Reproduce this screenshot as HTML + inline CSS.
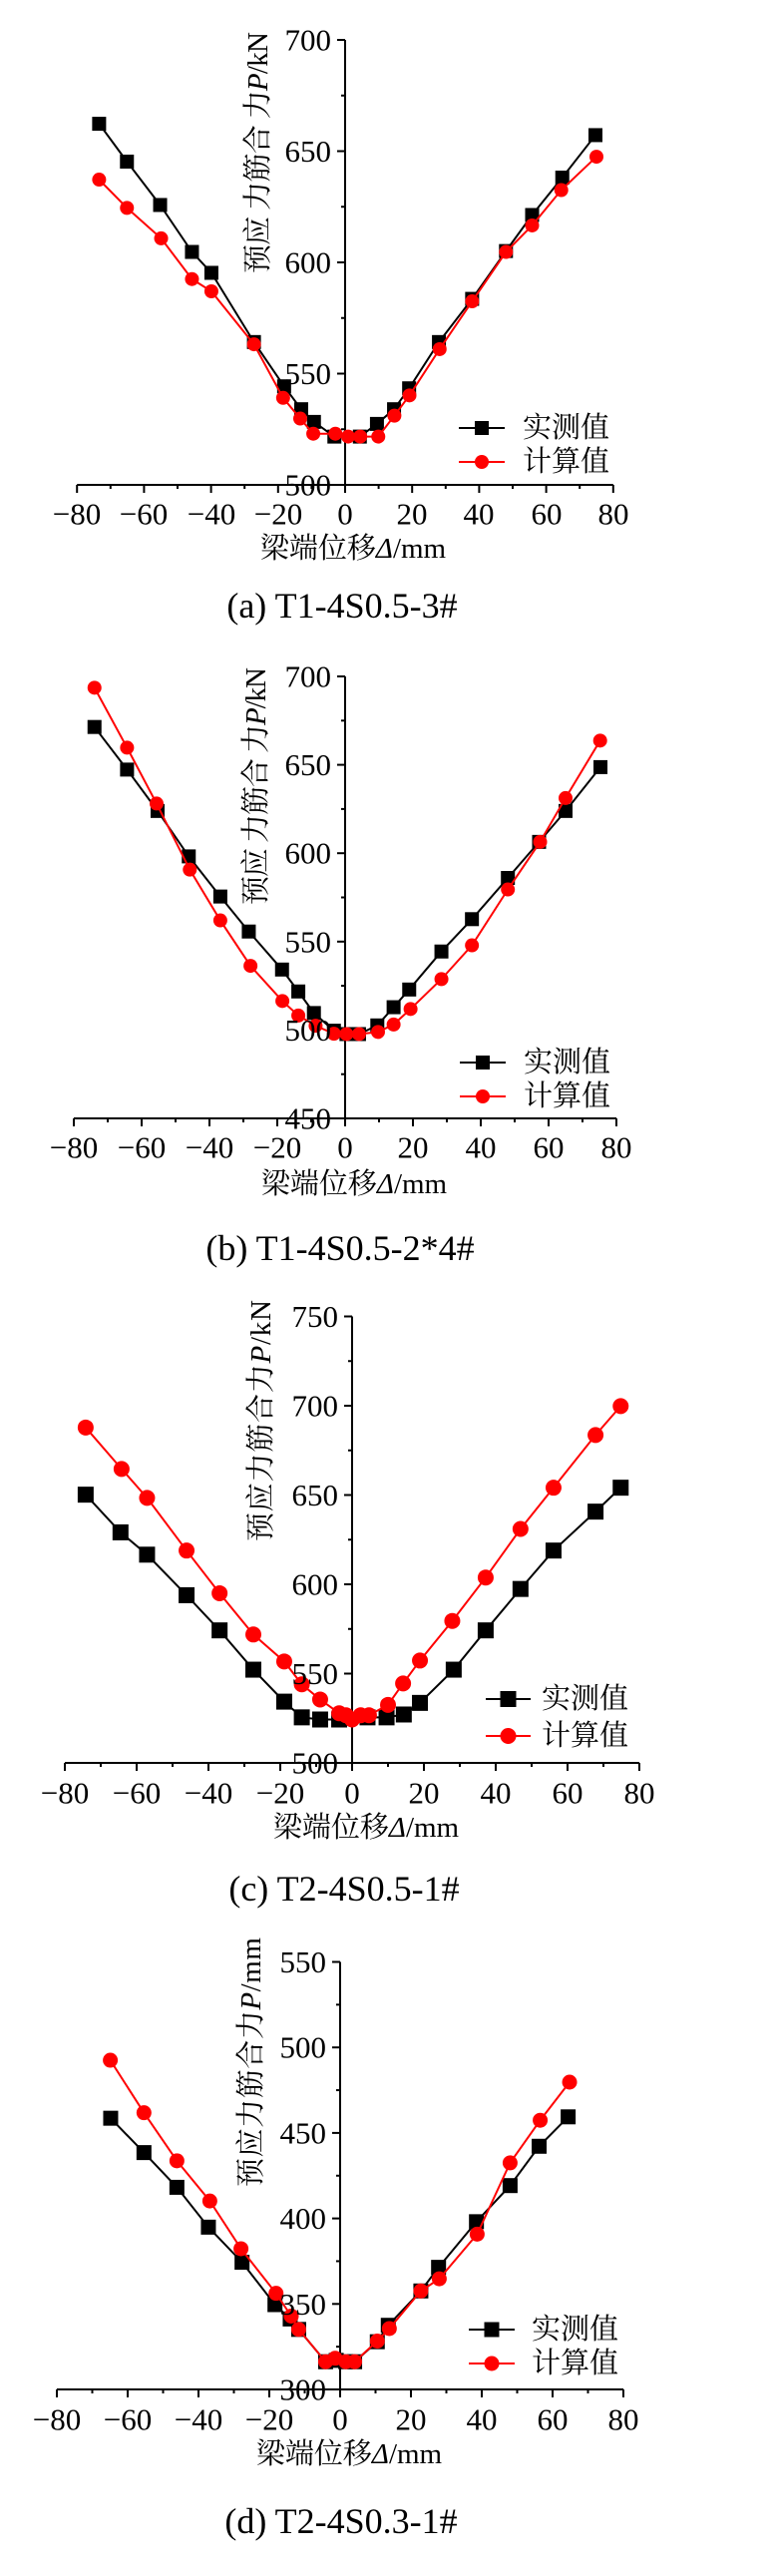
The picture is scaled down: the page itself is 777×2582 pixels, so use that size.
<!DOCTYPE html>
<html><head><meta charset="utf-8">
<style>
html,body{margin:0;padding:0;background:#fff;}
svg{display:block;}
text{font-family:"Liberation Serif","Noto Serif CJK SC",serif;fill:#000;}
.t{font-size:31px;}
.cj{font-family:"Liberation Serif","Noto Serif CJK SC",serif;font-size:29px;}
.cap{font-size:36px;}
</style></head><body>
<svg id="s" width="777" height="2582" viewBox="0 0 777 2582" xmlns="http://www.w3.org/2000/svg">
<g id="g"></g>
<!-- Chart a -->
<g class="t" text-anchor="end" dominant-baseline="central">
<text x="332" y="486">500</text><text x="332" y="374.5">550</text><text x="332" y="263">600</text><text x="332" y="151.5">650</text><text x="332" y="40">700</text>
</g>
<g class="t" text-anchor="middle" dominant-baseline="central">
<text x="77" y="515">−80</text><text x="144" y="515">−60</text><text x="212" y="515">−40</text><text x="279" y="515">−20</text><text x="346" y="515">0</text><text x="413" y="515">20</text><text x="480" y="515">40</text><text x="548" y="515">60</text><text x="615" y="515">80</text>
</g>
<text class="cj" x="354" y="550" text-anchor="middle" dominant-baseline="central">梁端位移<tspan font-style="italic">Δ</tspan>/mm</text>
<text class="cap" x="343" y="607" text-anchor="middle" dominant-baseline="central">(a) T1-4S0.5-3#</text>
<text class="cj" transform="translate(259,153) rotate(-90)" text-anchor="middle" dominant-baseline="central" textLength="242" lengthAdjust="spacing">预应 力筋合 力<tspan font-style="italic">P</tspan>/kN</text>
<text class="cj" x="524" y="429" dominant-baseline="central">实测值</text>
<text class="cj" x="524" y="463" dominant-baseline="central">计算值</text>

<!-- Chart b -->
<g class="t" text-anchor="end" dominant-baseline="central">
<text x="332" y="1121">450</text><text x="332" y="1032.4">500</text><text x="332" y="943.8">550</text><text x="332" y="855.2">600</text><text x="332" y="766.6">650</text><text x="332" y="678">700</text>
</g>
<g class="t" text-anchor="middle" dominant-baseline="central">
<text x="74" y="1150">−80</text><text x="142" y="1150">−60</text><text x="210" y="1150">−40</text><text x="278" y="1150">−20</text><text x="346" y="1150">0</text><text x="414" y="1150">20</text><text x="482" y="1150">40</text><text x="550" y="1150">60</text><text x="618" y="1150">80</text>
</g>
<text class="cj" x="355" y="1187" text-anchor="middle" dominant-baseline="central">梁端位移<tspan font-style="italic">Δ</tspan>/mm</text>
<text class="cap" x="341" y="1251" text-anchor="middle" dominant-baseline="central">(b) T1-4S0.5-2*4#</text>
<text class="cj" transform="translate(257,788) rotate(-90)" text-anchor="middle" dominant-baseline="central" textLength="238" lengthAdjust="spacing">预应 力筋合 力<tspan font-style="italic">P</tspan>/kN</text>
<text class="cj" x="525" y="1065" dominant-baseline="central">实测值</text>
<text class="cj" x="525" y="1099" dominant-baseline="central">计算值</text>

<!-- Chart c -->
<g class="t" text-anchor="end" dominant-baseline="central">
<text x="339" y="1767">500</text><text x="339" y="1677.5">550</text><text x="339" y="1588">600</text><text x="339" y="1498.5">650</text><text x="339" y="1409">700</text><text x="339" y="1319.5">750</text>
</g>
<g class="t" text-anchor="middle" dominant-baseline="central">
<text x="65" y="1797">−80</text><text x="137" y="1797">−60</text><text x="209" y="1797">−40</text><text x="281" y="1797">−20</text><text x="353" y="1797">0</text><text x="425" y="1797">20</text><text x="497" y="1797">40</text><text x="569" y="1797">60</text><text x="641" y="1797">80</text>
</g>
<text class="cj" x="367" y="1832" text-anchor="middle" dominant-baseline="central">梁端位移<tspan font-style="italic">Δ</tspan>/mm</text>
<text class="cap" x="345" y="1893" text-anchor="middle" dominant-baseline="central">(c) T2-4S0.5-1#</text>
<text class="cj" transform="translate(262,1424) rotate(-90)" text-anchor="middle" dominant-baseline="central" textLength="242" lengthAdjust="spacing">预应力筋合力<tspan font-style="italic">P</tspan>/kN</text>
<text class="cj" x="543" y="1703" dominant-baseline="central">实测值</text>
<text class="cj" x="543" y="1740" dominant-baseline="central">计算值</text>

<!-- Chart d -->
<g class="t" text-anchor="end" dominant-baseline="central">
<text x="327" y="2395">300</text><text x="327" y="2309.3">350</text><text x="327" y="2223.6">400</text><text x="327" y="2137.9">450</text><text x="327" y="2052.2">500</text><text x="327" y="1966.5">550</text>
</g>
<g class="t" text-anchor="middle" dominant-baseline="central">
<text x="57" y="2425">−80</text><text x="128" y="2425">−60</text><text x="199" y="2425">−40</text><text x="270" y="2425">−20</text><text x="341" y="2425">0</text><text x="412" y="2425">20</text><text x="483" y="2425">40</text><text x="554" y="2425">60</text><text x="625" y="2425">80</text>
</g>
<text class="cj" x="350" y="2460" text-anchor="middle" dominant-baseline="central">梁端位移<tspan font-style="italic">Δ</tspan>/mm</text>
<text class="cap" x="342" y="2527" text-anchor="middle" dominant-baseline="central">(d) T2-4S0.3-1#</text>
<text class="cj" transform="translate(252,2067) rotate(-90)" text-anchor="middle" dominant-baseline="central" textLength="250" lengthAdjust="spacing">预应力筋合力<tspan font-style="italic">P</tspan>/mm</text>
<text class="cj" x="533" y="2335" dominant-baseline="central">实测值</text>
<text class="cj" x="533" y="2369" dominant-baseline="central">计算值</text>
</svg>
<script>
var NS="http://www.w3.org/2000/svg",G=document.getElementById("g");
function el(t,a){var e=document.createElementNS(NS,t);for(var k in a)e.setAttribute(k,a[k]);G.appendChild(e);return e;}
var charts=[
{x0:346,yb:486,xs:3.36,ys:2.23,ymin:500,ymax:700,ms:14,
 b:[[-73.4,662.3],[-65.1,645.3],[-55.2,625.8],[-45.7,604.7],[-39.9,595.3],[-27.2,564.2],[-18.2,544.3],[-13.1,534],[-9.3,528.3],[-3.2,521.7],[4.4,521.7],[9.5,527.4],[14.6,534],[19.1,543.4],[28,564.2],[37.9,583.6],[48,605.1],[55.8,621.3],[64.8,638.1],[74.7,657.2]],
 r:[[-73.4,637.2],[-65.1,624.5],[-54.9,610.8],[-45.7,592.5],[-39.9,587],[-27.2,563.2],[-18.5,539.1],[-13.4,529.8],[-9.5,523],[-2.9,523],[0.9,521.7],[4.5,521.7],[9.9,521.7],[14.7,531.1],[19.2,540.2],[28.2,561],[37.9,582.5],[48,604.7],[55.8,616.6],[64.5,632.5],[75,647.5]],
 lg:[460,506,429,463]},
{x0:346,yb:1121,xs:3.4,ys:1.772,ymin:450,ymax:700,ms:14,
 b:[[-73.9,671.4],[-64.3,647.3],[-55.3,623.9],[-46.1,598.2],[-36.8,575.5],[-28.4,555.7],[-18.6,534.2],[-13.8,521.8],[-9.2,509.6],[-3.3,499.6],[0.4,497.7],[4.1,497.7],[9.5,502.6],[14.3,512.9],[18.9,522.9],[28.4,544.4],[37.4,562.7],[48,586],[57.2,606.4],[65,623.9],[75.3,648.7]],
 r:[[-73.9,693.6],[-64.3,659.7],[-55.6,628.1],[-45.8,590.7],[-36.8,562],[-27.9,536.3],[-18.5,516.4],[-13.8,508.2],[-8.7,502.4],[-3.3,497.9],[0.4,497.7],[4.1,497.7],[9.7,498.9],[14.3,503.1],[19.3,511.9],[28.4,528.8],[37.4,547.9],[48,579.5],[57.5,606.4],[65,631.2],[75.2,663.7]],
 lg:[461,507,1065,1099]},
{x0:353,yb:1767,xs:3.6,ys:1.79,ymin:500,ymax:750,ms:16,
 b:[[-74.2,650.2],[-64.5,629.1],[-57.1,616.6],[-46.1,593.9],[-36.9,574.2],[-27.5,552.2],[-18.9,534.3],[-14,525.5],[-8.9,524.3],[-3.6,524.3],[4.3,525.5],[9.6,525.5],[14.4,527.1],[18.9,533.6],[28.3,552.2],[37.2,574.2],[46.9,597.4],[56.1,618.9],[67.8,640.7],[74.8,654.1]],
 r:[[-74.2,687.8],[-64.2,664.6],[-57.1,648.4],[-46.1,618.9],[-36.9,595],[-27.5,571.9],[-18.9,556.8],[-14,544],[-8.9,535.5],[-3.6,527.8],[-1.7,526.7],[0,524.3],[2.4,526.7],[4.7,526.7],[10,532.5],[14.2,544.5],[18.9,557.3],[27.9,579.5],[37.2,603.8],[46.9,631],[56.1,654.1],[67.8,683.6],[74.8,699.8]],
 lg:[487,532,1703,1740]},
{x0:341,yb:2395,xs:3.55,ys:1.714,ymin:300,ymax:550,ms:15,
 b:[[-64.8,458.6],[-55.4,438.5],[-46.1,418.2],[-37.2,394.9],[-27.7,374.4],[-18.4,349.6],[-14.1,341.2],[-11.7,335.1],[-4.1,316.2],[-1.1,317],[1.6,316.2],[4.1,316.2],[10.5,327.9],[13.6,337.5],[22.8,357.6],[27.8,371.4],[38.5,398.1],[48,419.2],[56.2,442.2],[64.4,459.4]],
 r:[[-64.9,492.5],[-55.4,461.8],[-46.1,433.7],[-36.8,410.2],[-28,382.3],[-18.1,356.2],[-13.8,342.9],[-11.7,335.1],[-4.1,316.2],[-1.4,318.2],[1.6,316.2],[4.1,316.2],[10.5,328.3],[13.9,335.6],[22.8,357.6],[28,364.7],[38.7,390.8],[48,432.5],[56.5,457.4],[64.8,479.7]],
 lg:[470,516,2335,2369]}
];
charts.forEach(function(c){
 function X(v){return c.x0+v*c.xs;} function Y(v){return c.yb-(v-c.ymin)*c.ys;}
 var top=Y(c.ymax);
 el("line",{x1:c.x0,y1:top,x2:c.x0,y2:c.yb,stroke:"#000","stroke-width":2});
 el("line",{x1:X(-80),y1:c.yb,x2:X(80),y2:c.yb,stroke:"#000","stroke-width":2});
 for(var v=c.ymin;v<=c.ymax+0.1;v+=25){var maj=((v-c.ymin)%50)==0;
  el("line",{x1:c.x0-(maj?8:4),y1:Y(v),x2:c.x0,y2:Y(v),stroke:"#000","stroke-width":2});}
 for(var u=-80;u<=80;u+=10){var mj=(u%20)==0;
  el("line",{x1:X(u),y1:c.yb,x2:X(u),y2:c.yb+(mj?8:4),stroke:"#000","stroke-width":2});}
 function series(d,col,sq){
  el("polyline",{points:d.map(function(p){return X(p[0])+","+Y(p[1]);}).join(" "),fill:"none",stroke:col,"stroke-width":2});
  d.forEach(function(p){marker(X(p[0]),Y(p[1]),col,sq);});
 }
 function marker(x,y,col,sq){var s=c.ms;
  if(sq)el("rect",{x:x-s/2,y:y-s/2,width:s,height:s,fill:col});
  else el("circle",{cx:x,cy:y,r:s/2,fill:col});}
 series(c.b,"#000",true); series(c.r,"#ff0000",false);
 var L=c.lg;
 el("line",{x1:L[0],y1:L[2],x2:L[1],y2:L[2],stroke:"#000","stroke-width":2});
 marker((L[0]+L[1])/2,L[2],"#000",true);
 el("line",{x1:L[0],y1:L[3],x2:L[1],y2:L[3],stroke:"#ff0000","stroke-width":2});
 marker((L[0]+L[1])/2,L[3],"#ff0000",false);
});
</script>
</body></html>
